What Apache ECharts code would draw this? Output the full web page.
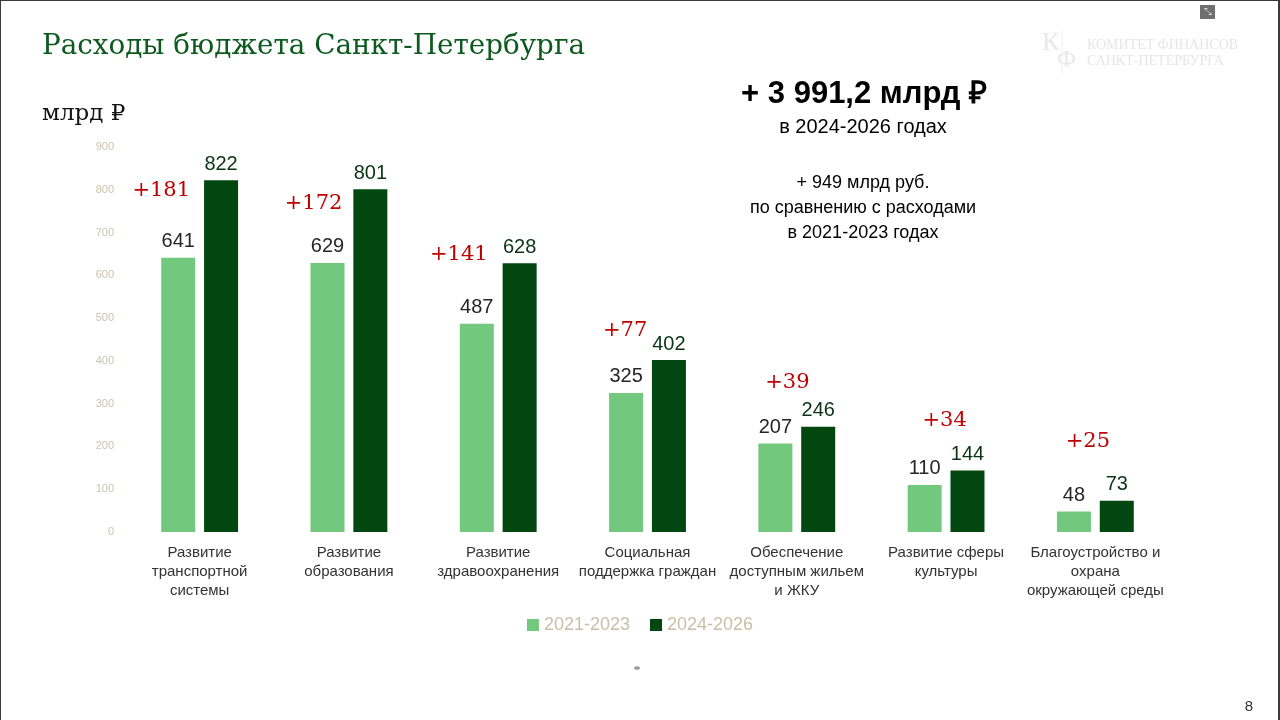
<!DOCTYPE html>
<html>
<head>
<meta charset="utf-8">
<script src="https://cdn.jsdelivr.net/npm/echarts@6/dist/echarts.min.js"></script>
<style>
html,body{margin:0;padding:0;background:#fff;}
#chart{width:1280px;height:720px;}
</style>
</head>
<body>
<div id="chart"></div>
<script>
// ---- data ----
const categories = [
  'Развитие\nтранспортной\nсистемы',
  'Развитие\nобразования',
  'Развитие\nздравоохранения',
  'Социальная\nподдержка граждан',
  'Обеспечение\nдоступным жильем\nи ЖКУ',
  'Развитие сферы\nкультуры',
  'Благоустройство и\nохрана\nокружающей среды'
];
const seriesNames = ['2021-2023', '2024-2026'];
const values2021 = [641, 629, 487, 325, 207, 110, 48];
const values2024 = [822, 801, 628, 402, 246, 144, 73];
const increases = [181, 172, 141, 77, 39, 34, 25];
const yMin = 0, yMax = 900, yStep = 100;

// ---- layout nudges for the red increase notes (pixels, relative to light bar top) ----
const noteNudge = [[-17,-67],[-14,-59],[-18,-69],[-1,-62],[12,-61],[20,-64],[14,-70]];

const lightGreen = '#72c87c';
const darkGreen = '#02470f';

const chart = echarts.init(document.getElementById('chart'), null, {renderer: 'canvas'});
chart.setOption({
  backgroundColor: '#ffffff',
  animation: false,
  grid: {left: 125, right: 110, top: 147, bottom: 188, containLabel: false},
  legend: {
    data: seriesNames,
    top: 611,
    left: 'center',
    itemWidth: 12,
    itemHeight: 12,
    itemGap: 20,
    icon: 'rect',
    textStyle: {color: '#c9bfa6', fontSize: 18, fontFamily: 'Liberation Sans, Arial, sans-serif'}
  },
  xAxis: {
    type: 'category',
    data: categories,
    axisLine: {show: false},
    axisTick: {show: false},
    axisLabel: {
      interval: 0,
      margin: 11,
      color: '#333333',
      fontSize: 15,
      lineHeight: 19,
      fontFamily: 'Liberation Sans, Arial, sans-serif'
    }
  },
  yAxis: {
    type: 'value',
    min: yMin, max: yMax, interval: yStep,
    splitLine: {show: false},
    axisLine: {show: false},
    axisTick: {show: false},
    axisLabel: {color: '#cbc3ae', fontSize: 11, margin: 11, fontFamily: 'Liberation Sans, Arial, sans-serif'}
  },
  series: [
    {
      name: seriesNames[0],
      type: 'bar',
      data: values2021,
      barWidth: 34,
      barGap: '26%',
      itemStyle: {color: lightGreen},
      label: {show: true, position: 'top', distance: 6, color: '#262626', fontSize: 20, fontFamily: 'Liberation Sans, Arial, sans-serif'},
      markPoint: {
        symbol: 'circle',
        symbolSize: 1,
        itemStyle: {color: 'rgba(0,0,0,0)'},
        label: {
          show: true,
          position: 'inside',
          formatter: '+{c}',
          color: '#bf0000',
          fontSize: 21,
          fontFamily: 'DejaVu Serif, serif'
        },
        data: increases.map((d, i) => ({
          coord: [i, values2021[i]],
          value: d,
          label: {offset: noteNudge[i]}
        }))
      }
    },
    {
      name: seriesNames[1],
      type: 'bar',
      data: values2024,
      barWidth: 34,
      barGap: '26%',
      itemStyle: {color: darkGreen},
      label: {show: true, position: 'top', distance: 6, color: '#0b3316', fontSize: 20, fontFamily: 'Liberation Sans, Arial, sans-serif'}
    }
  ],
  graphic: [
    // frame
    {type: 'rect', shape: {x: 0, y: 0, width: 1279, height: 760}, style: {fill: 'none', stroke: '#3a3a3a', lineWidth: 2}, silent: true},
    // title
    {type: 'text', left: 42, top: 33, style: {text: 'Расходы бюджета Санкт-Петербурга', fill: '#0d5a1f', font: '27.8px "DejaVu Serif", serif'}},
    {type: 'text', left: 42, top: 103, style: {text: 'млрд ₽', fill: '#111111', font: '23px "DejaVu Serif", serif'}},
    // summary text
    {type: 'text', x: 864, y: 94, style: {text: '+ 3 991,2 млрд ₽', fill: '#000', font: 'bold 31px "Liberation Sans", Arial, sans-serif', align: 'center', verticalAlign: 'middle'}},
    {type: 'text', x: 863, y: 127, style: {text: 'в 2024-2026 годах', fill: '#000', font: '20px "Liberation Sans", Arial, sans-serif', align: 'center', verticalAlign: 'middle'}},
    {type: 'text', x: 863, y: 208, style: {text: '+ 949 млрд руб.\nпо сравнению с расходами\nв 2021-2023 годах', fill: '#000', font: '18px "Liberation Sans", Arial, sans-serif', lineHeight: 25, align: 'center', verticalAlign: 'middle'}},
    // faded logo
    {type: 'text', x: 1042, y: 30, style: {text: 'К', fill: '#e8e8e8', font: '26px "Liberation Serif", serif'}},
    {type: 'text', x: 1057, y: 48, style: {text: 'Ф', fill: '#e8e8e8', font: '24px "Liberation Serif", serif'}},
    {type: 'line', shape: {x1: 1062, y1: 30, x2: 1062, y2: 74}, style: {stroke: '#efefef', lineWidth: 1}},
    {type: 'text', x: 1087, y: 38, style: {text: 'КОМИТЕТ ФИНАНСОВ', fill: '#e6e6e6', font: '14px "Liberation Serif", serif'}},
    {type: 'text', x: 1087, y: 54, style: {text: 'САНКТ-ПЕТЕРБУРГА', fill: '#e6e6e6', font: '14px "Liberation Serif", serif'}},
    // small icon top right
    {type: 'rect', shape: {x: 1200, y: 5, width: 15, height: 14}, style: {fill: '#6f6f6f'}},
    {type: 'text', x: 1207.5, y: 12, style: {text: '⤡', fill: '#dddddd', font: '10px "DejaVu Sans"', align: 'center', verticalAlign: 'middle'}},
    // small dot
    {type: 'ellipse', shape: {cx: 637, cy: 668, rx: 3, ry: 1.8}, style: {fill: '#9a9a9a'}},
    // page number
    {type: 'text', x: 1249, y: 707, style: {text: '8', fill: '#333', font: '15px "Liberation Sans", Arial, sans-serif', align: 'center', verticalAlign: 'middle'}}
  ]
});
</script>
</body>
</html>
